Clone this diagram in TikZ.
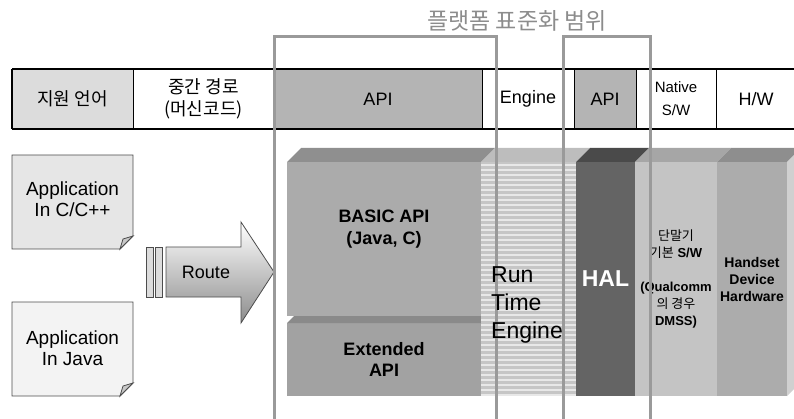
\documentclass[tikz,border=0pt]{standalone}
\usepackage{fontspec}
\setmainfont{Liberation Sans}
\newfontfamily\kr{Noto Sans CJK KR}
\usetikzlibrary{positioning}

\definecolor{langgray}{HTML}{DCDCDC}
\definecolor{apigray}{HTML}{B4B4B4}
\definecolor{framegray}{HTML}{9A9A9A}
\definecolor{titlegray}{HTML}{8C8C8C}
\definecolor{noteone}{HTML}{E6E6E6}
\definecolor{notetwo}{HTML}{F3F3F3}
\definecolor{foldgray}{HTML}{C8C8C8}
\definecolor{basicfront}{HTML}{ABABAB}
\definecolor{basictop}{HTML}{8F8F8F}
\definecolor{extfront}{HTML}{A2A2A2}
\definecolor{exttop}{HTML}{8A8A8A}
\definecolor{rtedark}{HTML}{C6C6C6}
\definecolor{rtelight}{HTML}{E8E8E8}
\definecolor{rtetop}{HTML}{BDBDBD}
\definecolor{halfront}{HTML}{646464}
\definecolor{haltop}{HTML}{4A4A4A}
\definecolor{swfront}{HTML}{C4C4C4}
\definecolor{swtop}{HTML}{A6A6A6}
\definecolor{hwfront}{HTML}{ACACAC}
\definecolor{hwtop}{HTML}{8E8E8E}
\definecolor{hwside}{HTML}{D0D0D0}

\tikzset{
  cell/.style={draw=black, line width=0.8pt, minimum height=60, inner sep=0pt, outer sep=0pt, align=center, font=\fontsize{18}{22}\selectfont},
  barline/.style={line width=2.2pt},
  note/.style={inner sep=0pt, align=center, font=\fontsize{19}{21}\selectfont},
  notebox/.style={draw=black!70, line width=0.8pt},
  block/.style={minimum height=234, inner sep=0pt, outer sep=0pt, align=center},
  stdframe/.style={draw=framegray, line width=3pt},
}
\newcommand\topface[2]{\fill[#2] (#1.north west) -- ++(14,-14) -- ([shift={(14,-14)}]#1.north east) -- (#1.north east) -- cycle;}

\begin{document}
\begin{tikzpicture}[x=1pt,y=-1pt]
\useasboundingbox (0,0) rectangle (794,419);

% title
\node[font=\kr\fontsize{23}{26}\selectfont, text=titlegray] (scope) at (517,21) {플랫폼 표준화 범위};

% top bar
\node[cell, fill=langgray, minimum width=121] (lang) at (72.5,99) {\kr 지원 언어};
\node[cell, fill=white, minimum width=141, right=0pt of lang] (mid) {\kr 중간 경로\\\kr (머신코드)};
\node[cell, fill=apigray, minimum width=208, right=0pt of mid] (api) {API};
\node[cell, fill=white, minimum width=92, right=0pt of api] (eng) {Engine};
\node[cell, fill=apigray, minimum width=62, right=0pt of eng] (apitwo) {API};
\node[cell, fill=white, minimum width=80, right=0pt of apitwo, font=\fontsize{15}{23}\selectfont] (nat) {Native\\S/W};
\node[cell, fill=white, minimum width=80, right=0pt of nat] (hwcell) {H/W};
\draw[barline] (lang.north west) -- (hwcell.north east);
\draw[barline] (lang.south west) -- (hwcell.south east);
\draw[barline] (lang.north west) -- (lang.south west);

% applications
\filldraw[notebox, fill=noteone] (12,155) -- (133,155) -- (133,236) -- (120,249) -- (12,249) -- cycle;
\filldraw[notebox, fill=foldgray] (133,236) -- (123,239) -- (120,249) -- cycle;
\node[note] (appc) at (72.5,199) {Application\\In C/C++};
\filldraw[notebox, fill=notetwo] (12,302) -- (133,302) -- (133,383) -- (120,396) -- (12,396) -- cycle;
\filldraw[notebox, fill=foldgray] (133,383) -- (123,386) -- (120,396) -- cycle;
\node[note] (appj) at (72.5,348) {Application\\In Java};

% route arrow
\filldraw[notebox, fill=langgray] (146,247) rectangle (153,297);
\filldraw[notebox, fill=langgray] (155,247) rectangle (162,297);
\draw[notebox, top color=white, bottom color=black!45] (166,247) -- (241,247) -- (241,222) -- (274,272) -- (241,323) -- (241,297) -- (166,297) -- cycle;
\node[font=\fontsize{18}{20}\selectfont] (route) at (206,272) {Route};

% platform blocks
\node[block, fill=basicfront, minimum width=194, minimum height=154] (basic) at (384,239) {};
\node[font=\bfseries\fontsize{18}{22}\selectfont, align=center] (basictxt) at (384,229) {BASIC API\\(Java, C)};
\node[block, fill=extfront, minimum width=194, minimum height=73, font=\bfseries\fontsize{18}{21}\selectfont] (ext) at (384,359.5) {Extended\\API};
\fill[exttop] (287,323) -- (294,316) -- (481,316) -- (481,323) -- cycle;
\topface{basic}{basictop}

\node[block, fill=rtedark, minimum width=95] (rte) at (528.5,279) {};
\foreach \yy in {164,169,...,394}
  \fill[rtelight] (481,\yy) rectangle (576,\yy+2);
\topface{rte}{rtetop}

\node[block, fill=halfront, minimum width=59, text=white, font=\bfseries\fontsize{23}{26}\selectfont] (hal) at (605.5,279) {HAL};
\topface{hal}{haltop}

\node[block, fill=swfront, minimum width=82, font=\fontsize{13}{17}\selectfont] (devsw) at (676,279)
  {{\kr 단말기}\\{\kr 기본} \textbf{S/W}\\[17pt]\textbf{(Qualcomm}\\{\kr 의 경우}\\\textbf{DMSS)}};
\topface{devsw}{swtop}

\node[block, fill=hwfront, minimum width=70, font=\bfseries\fontsize{14}{17}\selectfont] (hwblock) at (752,279) {Handset\\Device\\Hardware};
\topface{hwblock}{hwtop}
\fill[hwside] (hwblock.north east) -- ++(14,-14) -- ++(0,234) -- (hwblock.south east) -- cycle;

% standardization scope
\draw[stdframe] (274,419) |- (496,37) -- (496,419);
\draw[stdframe] (563,419) |- (650,37) -- (650,419);

\node[anchor=west, align=left, inner sep=0pt, font=\fontsize{23}{28}\selectfont] (rtetxt) at (491,305) {Run\\Time\\Engine};
\end{tikzpicture}
\end{document}
